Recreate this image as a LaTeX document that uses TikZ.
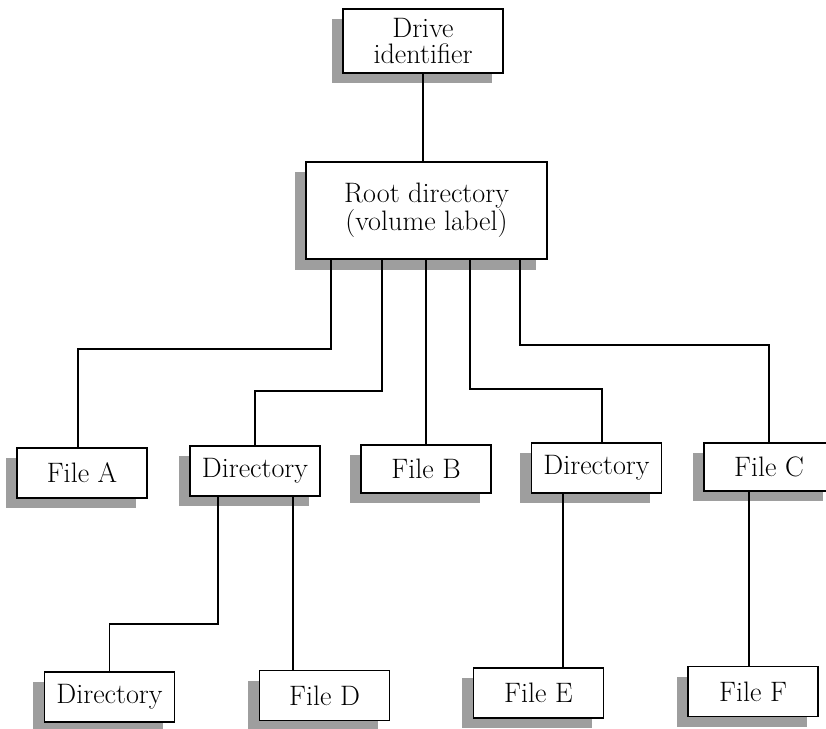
\documentclass[tikz,border=0pt]{standalone}
\usetikzlibrary{calc,shadows}
\begin{document}
\begin{tikzpicture}[x=0.025cm, y=-0.025cm, line width=1.1pt,
  box/.style={draw, fill=white, rectangle, align=center, inner sep=0pt,
    minimum width=3.25cm, minimum height=1.25cm,
    font=\fontsize{20}{19}\selectfont,
    drop shadow={shadow xshift=-0.28cm, shadow yshift=-0.26cm, opacity=1, fill=black!38}}]
\useasboundingbox (0,0) rectangle (826,728);
\node[box, minimum width=4cm, minimum height=1.6cm] (P_0_0) at (423,41) {Drive\\identifier};
\node[box, minimum width=6.03cm, minimum height=2.43cm] (P_1_0) at (426.5,210.5) {Root directory\\(volume label)};
\draw (P_0_0.south) -- (P_0_0.south |- P_1_0.north);
\node[box] (P_2_0) at (82,473) {File A};
\draw ($(P_1_0.south)+(-95.5,0)$) -- ++(0,89) -| ($(P_2_0.north)+(-4,0)$);
\node[box] (P_2_1) at (255,471) {Directory};
\draw ($(P_1_0.south)+(-44.5,0)$) -- ++(0,131) -| (P_2_1.north);
\node[box, minimum height=1.2cm] (P_2_2) at (426,469) {File B};
\draw (P_2_2.north |- P_1_0.south) -- (P_2_2.north);
\node[box] (P_2_3) at (596.5,468) {Directory};
\draw ($(P_1_0.south)+(43.5,0)$) -- ++(0,129) -| ($(P_2_3.north)+(5.5,0)$);
\node[box, minimum height=1.2cm] (P_2_4) at (769,467) {File C};
\draw ($(P_1_0.south)+(93.5,0)$) -- ++(0,85) -| (P_2_4.north);
\node[box] (P_3_0) at (109.5,697) {Directory};
\draw ($(P_2_1.south)+(-37,0)$) -- ++(0,127) -| (P_3_0.north);
\node[box] (P_3_1) at (324.5,695.5) {File D};
\draw ($(P_2_1.south)+(38,0)$) coordinate (D_1) -- (D_1 |- P_3_1.north);
\node[box] (P_3_2) at (538.5,693) {File E};
\draw ($(P_2_3.south)+(-33.5,0)$) coordinate (D_2) -- (D_2 |- P_3_2.north);
\node[box] (P_3_3) at (753,691.5) {File F};
\draw ($(P_2_4.south)+(-20,0)$) coordinate (D_3) -- (D_3 |- P_3_3.north);
\end{tikzpicture}
\end{document}
